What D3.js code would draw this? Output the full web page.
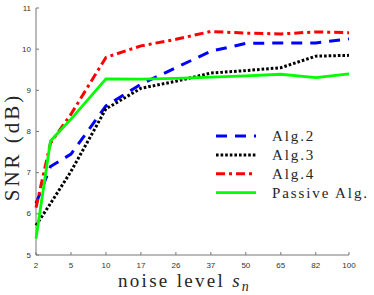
<!DOCTYPE html>
<meta charset="utf-8">
<script src="https://d3js.org/d3.v7.min.js"></script>
<style>
  * {margin: 0; padding: 0;}
  body {background: #fff;}
  .tick text {font-family: "Liberation Sans", Helvetica; font-size: 8px; fill: #333;}
  .lab {font-family: "Liberation Serif", serif; fill: #262626;}
</style>
<body>
<div id="chart"></div>
<script>
// noise levels where the curves were sampled
var noise = [2, 3, 5, 10, 17, 26, 37, 50, 65, 82, 100];
var xTicks = [2, 5, 10, 17, 26, 37, 50, 65, 82, 100];
var yTicks = [5, 6, 7, 8, 9, 10, 11];

var alg2 = [6.25, 7.15, 7.45, 8.62, 9.15, 9.55, 9.95, 10.14, 10.15, 10.15, 10.25];
var alg3 = [5.72, 6.25, 7.03, 8.55, 9.05, 9.22, 9.42, 9.48, 9.55, 9.83, 9.85];
var alg4 = [6.15, 7.72, 8.42, 9.8, 10.08, 10.24, 10.43, 10.39, 10.37, 10.42, 10.4];
var passive = [5.4, 7.77, 8.3, 9.28, 9.27, 9.29, 9.32, 9.35, 9.39, 9.31, 9.4];

var series = [
  {name: "Alg.2", values: alg2, color: "#0000ff", dash: "11,8", width: 3},
  {name: "Alg.3", values: alg3, color: "#000000", dash: "2.6,2", width: 3},
  {name: "Alg.4", values: alg4, color: "#ff0000", dash: "9,4,3,4", width: 3},
  {name: "Passive Alg.", values: passive, color: "#00ff00", dash: null, width: 2.8}
];

var W = 374, H = 295;
var margin = {top: 8, right: 25, bottom: 40, left: 36};
var width = W - margin.left - margin.right,
    height = H - margin.top - margin.bottom;

var svg = d3.select("#chart").append("svg")
    .attr("width", W).attr("height", H);
var g = svg.append("g")
    .attr("transform", "translate(" + margin.left + "," + margin.top + ")");

// x axis is spaced on sqrt(n-1)
var xk = d3.scaleLinear().domain([1, Math.sqrt(99)]).range([0, width]);
var x = function(n) { return xk(Math.sqrt(n - 1)); };
var y = d3.scaleLinear().domain([5, 11]).range([height, 0]);

// axes
g.append("line").attr("x1", 0).attr("x2", 0).attr("y1", 0).attr("y2", height)
  .attr("stroke", "#777").attr("stroke-width", 1);
g.append("line").attr("x1", 0).attr("x2", width).attr("y1", height).attr("y2", height)
  .attr("stroke", "#777").attr("stroke-width", 1);

var yt = g.selectAll(".ytick").data(yTicks).enter().append("g")
  .attr("class", "tick")
  .attr("transform", function(d) { return "translate(0," + y(d) + ")"; });
yt.append("line").attr("x1", 0).attr("x2", 3).attr("stroke", "#777");
yt.append("text").attr("x", -5).attr("dy", "0.32em").attr("text-anchor", "end")
  .text(function(d) { return d; });

var xt = g.selectAll(".xtick").data(xTicks).enter().append("g")
  .attr("class", "tick")
  .attr("transform", function(d) { return "translate(" + x(d) + "," + height + ")"; });
xt.append("line").attr("y1", 0).attr("y2", -3).attr("stroke", "#777");
xt.append("text").attr("y", 10).attr("dy", "0.32em").attr("text-anchor", "middle")
  .text(function(d) { return d; });

// lines
var line = d3.line()
  .x(function(d, i) { return x(noise[i]); })
  .y(function(d) { return y(d); });

series.forEach(function(s) {
  g.append("path")
    .attr("d", line(s.values))
    .attr("fill", "none")
    .attr("stroke", s.color)
    .attr("stroke-width", s.width)
    .attr("stroke-dasharray", s.dash);
});

// legend
var leg = svg.append("g").attr("transform", "translate(216,136)");
var rows = leg.selectAll("g").data(series).enter().append("g")
  .attr("transform", function(d, i) { return "translate(0," + (i * 18.9) + ")"; });
rows.append("line").attr("x1", 0).attr("x2", 40)
  .attr("stroke", function(d) { return d.color; })
  .attr("stroke-width", function(d) { return d.width; })
  .attr("stroke-dasharray", function(d) { return d.dash; });
rows.append("text").attr("class", "lab")
  .attr("x", 56).attr("dy", "0.35em")
  .style("font-size", "15px")
  .style("letter-spacing", "1.9px")
  .text(function(d) { return d.name; });

// axis labels
svg.append("text").attr("class", "lab")
  .attr("transform", "translate(19,147) rotate(-90)")
  .attr("text-anchor", "middle")
  .style("font-size", "21px")
  .style("letter-spacing", "3px")
  .text("SNR (dB)");

var xl = svg.append("text").attr("class", "lab")
  .attr("x", 118).attr("y", 287)
  .style("font-size", "19px")
  .style("letter-spacing", "2.3px");
xl.append("tspan").text("noise level ");
xl.append("tspan").style("font-style", "italic").text("s");
xl.append("tspan").attr("dy", 4).style("font-size", "14px").style("font-style", "italic").text("n");
</script>
</body>
